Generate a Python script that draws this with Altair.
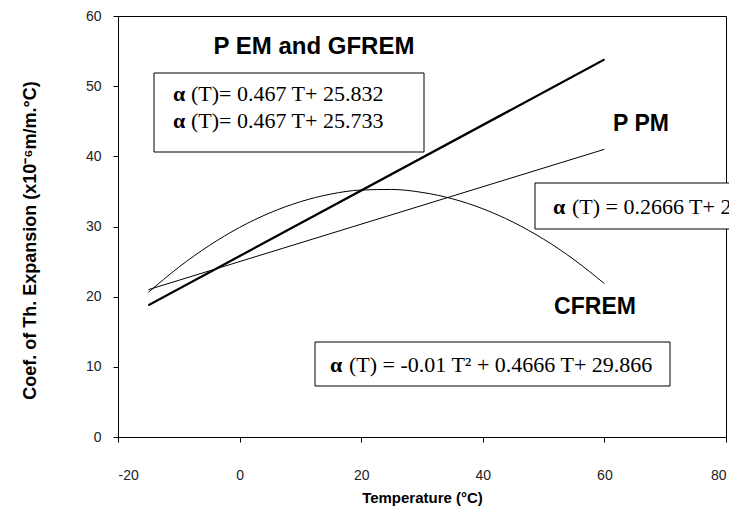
import altair as alt
import pandas as pd

# ---- data ----
line_t = [-15, 60]
em_vals = [18.83, 53.85]      # P EM
gfrem_vals = [18.73, 53.75]   # GFREM
ppm_vals = [21.0, 41.0]       # P PM

cf_t = [-15, -10, -5, 0, 5, 10, 15, 20, 25, 30, 35, 40, 45, 50, 55, 60]
cf_vals = [20.62, 24.20, 27.28, 29.87, 31.95, 33.53, 34.62, 35.20,
           35.28, 34.86, 33.95, 32.53, 30.61, 28.20, 25.28, 21.86]

x_ticks = [-20, 0, 20, 40, 60, 80]
y_ticks = [0, 10, 20, 30, 40, 50, 60]

rows = []
for name, ts, vs in [("P EM", line_t, em_vals), ("GFREM", line_t, gfrem_vals),
                     ("P PM", line_t, ppm_vals), ("CFREM", cf_t, cf_vals)]:
    for i, (t, v) in enumerate(zip(ts, vs)):
        rows.append({"series": name, "T": t, "alpha": v, "order": i})
df = pd.DataFrame(rows)

FONT = "Liberation Sans"
SERIF = "Liberation Serif"

x_enc = alt.X("T:Q", scale=alt.Scale(domain=[-20, 80], nice=False),
              axis=alt.Axis(values=x_ticks, title="Temperature (°C)",
                            labelExpr="'' + datum.value",
                            labelPadding=26, titleX=304, titleY=60,
                            titleAlign="center", titleBaseline="middle",
                            titleFontSize=15))
y_enc = alt.Y("alpha:Q", scale=alt.Scale(domain=[0, 60], nice=False),
              axis=alt.Axis(values=y_ticks,
                            title="Coef. of Th. Expansion (x10⁻⁶m/m.°C)",
                            labelExpr="'' + datum.value",
                            labelPadding=12, titleX=-88, titleY=224,
                            titleAlign="center", titleBaseline="middle",
                            titleAngle=-90, titleFontSize=18))

thick = alt.Chart(df).transform_filter(
    alt.FieldOneOfPredicate(field="series", oneOf=["P EM", "GFREM"])
).mark_line(color="black", strokeWidth=1.6).encode(
    x=x_enc, y=y_enc, detail="series:N", order="order:Q")

thin = alt.Chart(df).transform_filter(
    alt.FieldOneOfPredicate(field="series", oneOf=["P PM", "CFREM"])
).mark_line(color="black", strokeWidth=1, interpolate="monotone").encode(
    x="T:Q", y="alpha:Q", detail="series:N", order="order:Q")

def box(x1, x2, y1, y2):
    return alt.Chart(pd.DataFrame({"k": [0]})).mark_rect(
        fill="white", stroke="black", strokeWidth=1).encode(
        x=alt.value(x1), x2=alt.value(x2), y=alt.value(y1), y2=alt.value(y2))

def label(text, x, y, size=23, bold=True, font=FONT, align="center"):
    return alt.Chart(pd.DataFrame({"k": [0]})).mark_text(
        text=text, font=font, fontSize=size,
        fontWeight="bold" if bold else "normal",
        align=align, baseline="middle", color="black").encode(
        x=alt.value(x), y=alt.value(y))

EQ = 22
layers = [
    thin, thick,
    box(36, 306, 57, 136),
    box(417, 720, 167, 213),
    box(197, 552, 326, 370),
    label("P EM and GFREM", 196, 31, size=24),
    label("P PM", 523, 108),
    label("CFREM", 477, 291),
    label("α", 55, 78, size=EQ, font=SERIF, align="left"),
    label("(T)= 0.467 T+ 25.832", 73, 78, size=EQ, bold=False, font=SERIF, align="left"),
    label("α", 55, 105, size=EQ, font=SERIF, align="left"),
    label("(T)= 0.467 T+ 25.733", 73, 105, size=EQ, bold=False, font=SERIF, align="left"),
    label("α", 435, 191, size=EQ, font=SERIF, align="left"),
    label("(T) = 0.2666 T+ 25.0", 454, 191, size=EQ, bold=False, font=SERIF, align="left"),
    label("α", 212, 349, size=EQ, font=SERIF, align="left"),
    label("(T) = -0.01 T² + 0.4666 T+ 29.866", 231, 349, size=EQ, bold=False, font=SERIF, align="left"),
]

chart = alt.layer(*layers).properties(
    width=608, height=421,
    autosize=alt.AutoSizeParams(type="none"),
    padding={"left": 110, "top": 8, "right": 3, "bottom": 71},
).configure_view(stroke="black", strokeWidth=1).configure_axis(
    grid=False, domainColor="black", tickColor="black", tickSize=5,
    labelFont=FONT, labelFontSize=14, labelColor="#222",
    titleFont=FONT, titleFontWeight="bold", titleColor="black",
)

chart.save("out.html", embed_options={"renderer": "svg", "actions": False})
